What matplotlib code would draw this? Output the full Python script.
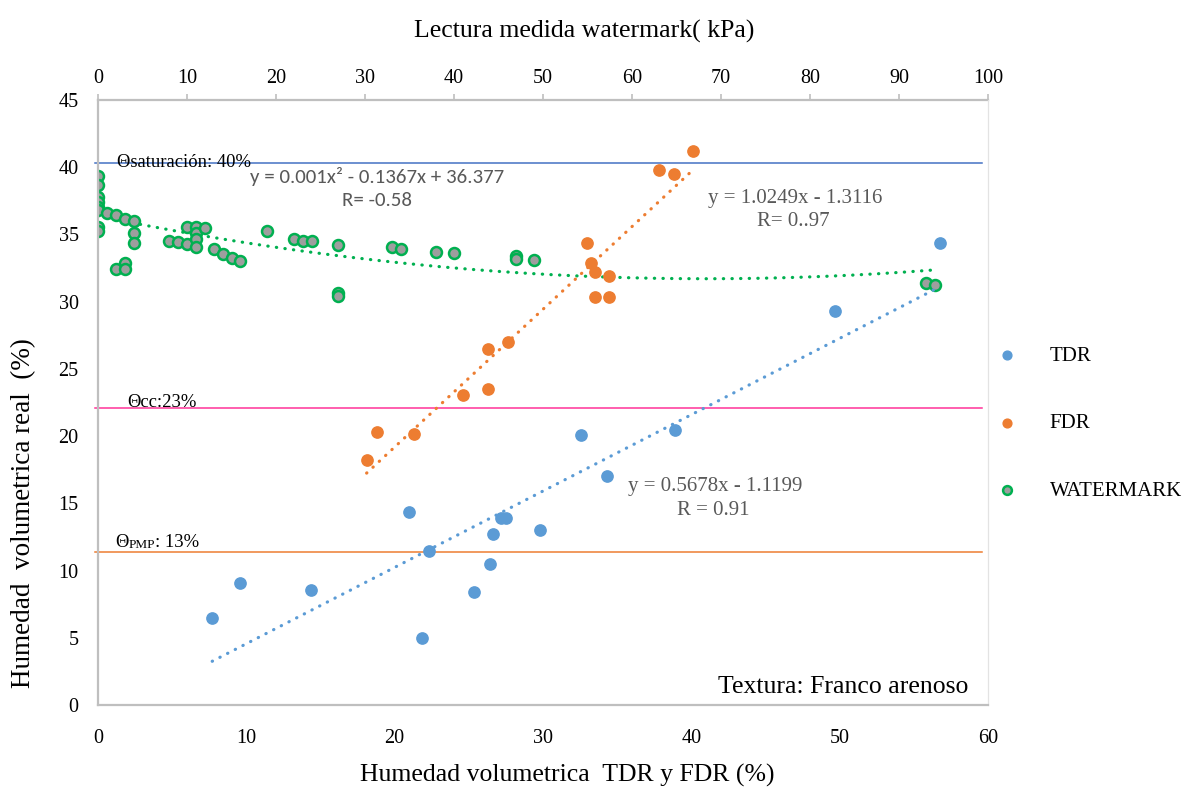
import numpy as np
import matplotlib
matplotlib.use("Agg")
import matplotlib.pyplot as plt

# ---------------- data ----------------
tdr_x = [7.70, 9.59, 14.39, 20.95, 21.82, 22.30, 25.34, 26.42, 26.62, 27.16, 27.50,
         29.80, 32.57, 34.32, 38.92, 49.66, 56.76]
tdr_y = [6.47, 9.08, 8.56, 14.36, 4.99, 11.46, 8.41, 10.49, 12.72, 13.91, 13.91,
         13.02, 20.09, 17.04, 20.46, 29.32, 34.38]

fdr_x = [18.11, 18.78, 21.28, 24.59, 26.28, 26.28, 27.64, 32.97, 33.24, 33.51, 34.46,
         33.51, 34.46, 37.84, 38.85, 40.14]
fdr_y = [18.23, 20.31, 20.16, 23.07, 23.51, 26.49, 27.01, 34.38, 32.89, 32.22, 31.92,
         30.36, 30.36, 39.81, 39.51, 41.22]

wm_x = [0, 0, 0, 0, 0, 0, 0, 0,
        1, 2, 3, 4, 4, 4, 2, 3, 3,
        8, 9, 10, 10, 11, 11, 11, 11, 12, 13, 14, 15, 16,
        19, 22, 23, 24, 27, 27, 27, 33, 34, 38, 40, 47, 47, 49, 93, 94]
wm_y = [39.36, 38.69, 37.80, 37.43, 37.05, 36.83, 35.57, 35.27,
        36.60, 36.46, 36.16, 36.00, 35.12, 34.38, 32.44, 32.89, 32.44,
        34.52, 34.45, 34.30, 35.57, 35.57, 35.12, 34.67, 34.08, 35.49, 33.93, 33.56, 33.26, 33.04,
        35.27, 34.67, 34.52, 34.52, 34.23, 30.65, 30.43, 34.08, 33.93, 33.70, 33.60, 33.40, 33.20,
        33.10, 31.40, 31.25]

# trendline coefficients as printed on the chart (highest power first)
tdr_coef = [0.5678, -1.1199]
fdr_coef = [1.0249, -1.3116]
wm_coef = [0.001, -0.1367, 36.377]

theta_sat = 40.3
theta_cc = 22.07
theta_pmp = 11.4

x_ticks = [0, 10, 20, 30, 40, 50, 60]
x2_ticks = [0, 10, 20, 30, 40, 50, 60, 70, 80, 90, 100]
y_ticks = [0, 5, 10, 15, 20, 25, 30, 35, 40, 45]

# ---------------- style ----------------
SERIF = ["Liberation Serif", "DejaVu Serif"]
SANS = ["Carlito", "Lato", "DejaVu Sans"]
C_TDR = "#5B9BD5"
C_FDR = "#ED7D31"
C_WM = "#00B050"
C_WMFILL = "#9E9E9E"
GRAY_TXT = "#595959"
SPINE = "#BFBFBF"

plt.rcParams["font.family"] = SERIF

fig = plt.figure(figsize=(11.87, 7.87), dpi=100)
ax = fig.add_axes([98 / 1187, 82 / 787, 890 / 1187, 605 / 787])
ax.set_xlim(0, 60)
ax.set_ylim(0, 45)

# horizontal reference lines
ax.plot([-0.2, 59.6], [theta_sat, theta_sat], color="#4472C4", lw=1.1, clip_on=False, zorder=2)
ax.plot([-0.2, 59.6], [theta_cc, theta_cc], color="#FF3399", lw=1.1, clip_on=False, zorder=2)
ax.plot([-0.2, 59.6], [theta_pmp, theta_pmp], color="#ED7D31", lw=1.1, clip_on=False, zorder=2)

dot_ls = (0, (0.1, 2.6))

# watermark on top axis
ax2 = ax.twiny()
ax2.set_xlim(0, 100)
ax2.set_ylim(0, 45)
wx = np.array(wm_x, float)
wy = np.array(wm_y, float)
xx = np.linspace(0, max(wm_x), 200)
ax2.plot(xx, np.polyval(wm_coef, xx), color=C_WM, lw=2.3, ls=dot_ls, dash_capstyle="round", zorder=3)
ax2.scatter(wx, wy, s=62, facecolor=C_WMFILL, edgecolor=C_WM, linewidths=1.8, zorder=4)

# TDR / FDR
tx = np.array(tdr_x); ty = np.array(tdr_y)
fx = np.array(fdr_x); fy = np.array(fdr_y)
xt = np.linspace(tx.min(), tx.max(), 50)
xf = np.linspace(fx.min(), fx.max(), 50)
ax.plot(xt, np.polyval(tdr_coef, xt), color=C_TDR, lw=2.3, ls=dot_ls, dash_capstyle="round", zorder=5)
ax.plot(xf, np.polyval(fdr_coef, xf), color=C_FDR, lw=2.3, ls=dot_ls, dash_capstyle="round", zorder=5)
ax.set_zorder(ax2.get_zorder() + 1)
ax.patch.set_visible(False)
h_tdr = ax.scatter(tx, ty, s=66, color=C_TDR, zorder=6, label="TDR")
h_fdr = ax.scatter(fx, fy, s=66, color=C_FDR, zorder=6, label="FDR")
h_wm = ax.scatter([], [], s=40, facecolor=C_WMFILL, edgecolor=C_WM, linewidths=1.8, label="WATERMARK")

# spines / ticks
for a in (ax, ax2):
    for s in a.spines.values():
        s.set_visible(False)
ax.spines["left"].set_visible(True)
ax.spines["left"].set_color(SPINE)
ax.spines["left"].set_linewidth(1.6)
ax.spines["bottom"].set_visible(True)
ax.spines["bottom"].set_color(SPINE)
ax.spines["bottom"].set_linewidth(1.6)
ax.spines["right"].set_visible(True)
ax.spines["right"].set_color("#E3E3E3")
ax.spines["right"].set_linewidth(0.9)
ax2.spines["top"].set_visible(True)
ax2.spines["top"].set_color(SPINE)
ax2.spines["top"].set_linewidth(1.6)

ax.set_xticks(x_ticks)
ax.set_yticks(y_ticks)
ax2.set_xticks(x2_ticks)
ax.tick_params(axis="both", length=0, labelsize=14.5, colors="black")
ax.tick_params(axis="y", pad=14)
ax.tick_params(axis="x", pad=17)
ax2.tick_params(axis="x", length=4, width=1.2, color=SPINE, labelsize=14.5, pad=5, direction="out")
ax2.tick_params(axis="y", length=0)

ax.set_xlabel("Humedad volumetrica  TDR y FDR (%)", fontsize=18.5)
ax.xaxis.set_label_coords(0.527, -0.097)
ax.set_ylabel("Humedad  volumetrica real  (%)", fontsize=19.5)
ax.yaxis.set_label_coords(-0.069, 0.317)
ax2.set_xlabel("Lectura medida watermark( kPa)", fontsize=18.5)
ax2.xaxis.set_label_coords(0.546, 1.103)

# annotations
ax.text(1.28, 40.05, "\u0398saturaci\u00f3n: 40%", fontsize=13.4, va="baseline", ha="left", zorder=7)
ax.text(1.97, 22.2, "\u0398cc:23%", fontsize=13.4, va="baseline", ha="left", zorder=7)
t1 = ax.text(1.15, 11.75, "\u0398", fontsize=13.4, va="baseline", ha="left", zorder=7)
t2 = ax.annotate("PMP", xy=(1, 0), xycoords=t1, fontsize=9.5, va="bottom", ha="left")
ax.annotate(": 13%", xy=(1, 0), xycoords=t2, fontsize=13.4, va="bottom", ha="left")

ax.text(18.8, 39.3, "y = 0.001x\u00b2 - 0.1367x + 36.377", fontsize=15, family=SANS,
        color=GRAY_TXT, ha="center", va="center", zorder=7)
ax.text(18.8, 37.55, "R= -0.58", fontsize=15, family=SANS, color=GRAY_TXT,
        ha="center", va="center", zorder=7)
ax.text(47.0, 37.7, "y = 1.0249x - 1.3116", fontsize=15, color=GRAY_TXT,
        ha="center", va="center", zorder=7)
ax.text(46.9, 35.95, "R= 0..97", fontsize=15, color=GRAY_TXT,
        ha="center", va="center", zorder=7)
ax.text(41.6, 16.25, "y = 0.5678x - 1.1199", fontsize=15, color=GRAY_TXT,
        ha="center", va="center", zorder=7)
ax.text(41.5, 14.45, "R = 0.91", fontsize=15, color=GRAY_TXT,
        ha="center", va="center", zorder=7)
ax.text(58.7, 1.34, "Textura: Franco arenoso", fontsize=18.5, ha="right", va="center", zorder=7)

leg = ax.legend(handles=[h_tdr, h_fdr, h_wm], loc="center left",
                bbox_to_anchor=(0.9885, 0.465), frameon=False, labelspacing=2.3,
                handlelength=1.0, handletextpad=1.55, scatterpoints=1,
                prop={"family": SERIF, "size": 15})
for h in leg.legend_handles:
    h.set_sizes([40])

fig.savefig("out.png", dpi=100)
